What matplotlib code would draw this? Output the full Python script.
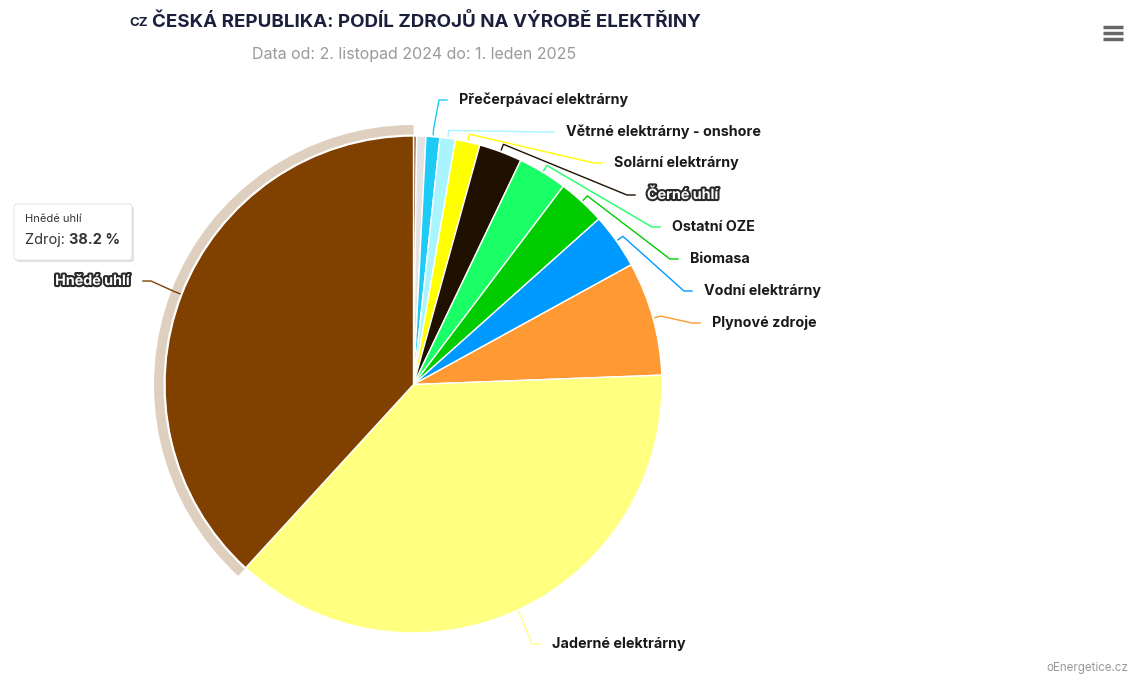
import matplotlib
matplotlib.use("Agg")
import matplotlib.pyplot as plt
import matplotlib.patheffects as pe
import numpy as np
from matplotlib.patches import Wedge, FancyBboxPatch

plt.rcParams['font.family'] = ['Inter', 'DejaVu Sans']

# data, clockwise from 12 o'clock
sources = ["Odpad", "Ostatní", "Přečerpávací elektrárny", "Větrné elektrárny - onshore",
           "Solární elektrárny", "Černé uhlí", "Ostatní OZE", "Biomasa",
           "Vodní elektrárny", "Plynové zdroje", "Jaderné elektrárny", "Hnědé uhlí"]
shares = [0.2, 0.6, 0.9, 1.0, 1.6, 2.8, 3.2, 3.1, 3.6, 7.4, 37.4, 38.2]
colors = ['#8c5a2e', '#e3e3e3', '#1ecbf7', '#a8f5ff', '#ffff00', '#201000',
          '#1aff66', '#00cc00', '#0099ff', '#ff9933', '#ffff80', '#7f4000']

title = "ČESKÁ REPUBLIKA: PODÍL ZDROJŮ NA VÝROBĚ ELEKTŘINY"
subtitle = "Data od: 2. listopad 2024 do: 1. leden 2025"
hovered = "Hnědé uhlí"

# label anchors in pixels (x, y from top), side of the pie
label_pos = {
    "Přečerpávací elektrárny": (447, 100, 'r'),
    "Větrné elektrárny - onshore": (554, 132, 'r'),
    "Solární elektrárny": (602, 163, 'r'),
    "Černé uhlí": (635, 195, 'r'),
    "Ostatní OZE": (660, 227, 'r'),
    "Biomasa": (678, 259, 'r'),
    "Vodní elektrárny": (692, 291, 'r'),
    "Plynové zdroje": (700, 323, 'r'),
    "Jaderné elektrárny": (540, 644, 'r'),
    "Hnědé uhlí": (143, 281, 'l'),
}
outlined = ["Černé uhlí", "Hnědé uhlí"]

W, H = 1137, 675


def Y(y):
    return H - y


fig = plt.figure(figsize=(W / 100, H / 100), dpi=100)
ax = fig.add_axes([0, 0, 1, 1])

cx, cy, r = 413.5, Y(384.5), 248.5
wedges, _ = ax.pie(shares, colors=colors, startangle=90, counterclock=False,
                   center=(cx, cy), radius=r,
                   wedgeprops=dict(edgecolor='white', linewidth=1))
ax.set_xlim(0, W)
ax.set_ylim(0, H)
ax.set_aspect('equal')
ax.axis('off')

# hover halo
hi = sources.index(hovered)
hw = wedges[hi]
ax.add_patch(Wedge((cx, cy), r + 11, hw.theta1, hw.theta2, width=9.5,
                   facecolor=colors[hi], alpha=0.25, edgecolor='none', zorder=0))

# data labels with connectors
for i, name in enumerate(sources):
    if name not in label_pos:
        continue
    lx, ly, side = label_pos[name]
    ly = Y(ly)
    w = wedges[i]
    mid = np.deg2rad((w.theta1 + w.theta2) / 2)
    tx, ty = cx + (r + 2) * np.cos(mid), cy + (r + 2) * np.sin(mid)
    bx, by = cx + (r + 8) * np.cos(mid), cy + (r + 8) * np.sin(mid)
    step = 8 if side == 'r' else -8
    ax.plot([tx, bx, lx - step, lx], [ty, by, ly, ly], color=colors[i], lw=1,
            solid_joinstyle='miter', zorder=3)
    if side == 'r':
        ha, x_text = 'left', lx + 12
    else:
        ha, x_text = 'right', lx - 13
    if name in outlined:
        ax.text(x_text, ly, name, va='center', ha=ha, fontsize=10.3, fontweight='bold',
                color='white',
                path_effects=[pe.withStroke(linewidth=3, foreground='#2a2a2a')])
    else:
        ax.text(x_text, ly, name, va='center', ha=ha, fontsize=10.3, fontweight='bold',
                color='#1a1a1a')

# tooltip
shadow = FancyBboxPatch((16, Y(262)), 118, 56, boxstyle='round,pad=0,rounding_size=3',
                        facecolor='#000000', alpha=0.12, edgecolor='none', zorder=4)
ax.add_patch(shadow)
tip = FancyBboxPatch((14, Y(260)), 118, 56, boxstyle='round,pad=0,rounding_size=3',
                     facecolor='white', edgecolor='#e6e6e6', linewidth=0.8, zorder=5)
ax.add_patch(tip)
ax.text(25, Y(219), hovered, fontsize=8, color='#333333', va='center', zorder=6)
t = ax.text(25, Y(240), "Zdroj: ", fontsize=10.5, color='#333333', va='center', zorder=6)
fig.canvas.draw()
bb = t.get_window_extent()
ax.text(25 + bb.width, Y(240), f"{shares[hi]:.1f} %", fontsize=10.5, fontweight='bold',
        color='#333333', va='center', zorder=6)

# titles
ax.text(129, Y(23), "CZ", fontsize=9.5, fontweight='bold', color='#1b1f3b', va='center')
ax.text(152, Y(22), title, fontsize=13.5, fontweight='bold', color='#1b1f3b', va='center')
ax.text(414, Y(55), subtitle, fontsize=11.5, color='#9a9a9a', va='center', ha='center')

# menu icon + credit
for yy in (27, 33, 39):
    ax.plot([1103, 1123], [Y(yy), Y(yy)], color='#666666', lw=2.5, solid_capstyle='butt')
ax.text(1128, Y(668), "oEnergetice.cz", fontsize=8.3, color='#999999', ha='right', va='center')

fig.savefig("out.png", dpi=100)
